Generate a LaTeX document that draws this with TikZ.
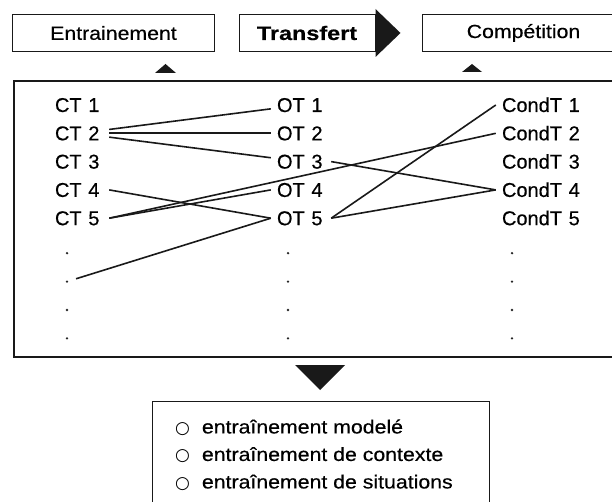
\documentclass[tikz,border=0pt]{standalone}
\usepackage{fontspec}
\usepackage{graphicx}
\setmainfont{Liberation Sans}[FakeBold=0.4]
\newfontfamily\widefont{Liberation Sans}[FakeStretch=1.12,FakeBold=0.4,BoldFeatures={FakeStretch=1.2}]
\newfontfamily\ringfont{DejaVu Sans}
\usetikzlibrary{positioning}

\newcommand{\ring}{{\ringfont\fontsize{17}{17}\selectfont ○}}

\begin{document}
\begin{tikzpicture}[x=1pt,y=-1pt,
            ink/.style={black!90},
            topbox/.style={draw,ink,rectangle,line width=1pt,minimum width=202pt,minimum height=37pt,text=black,font=\widefont\fontsize{19}{22}\selectfont},
            lab/.style={text width=48pt,align=left,inner xsep=6pt,inner ysep=0pt,text height=14pt,text depth=0pt,node distance=28.3pt,text=black,font=\fontsize{20}{24}\selectfont},
            condlab/.style={lab,text width=80pt},
            dot/.style={circle,fill=black!85,inner sep=0pt,minimum size=2.6pt,node distance=28.4pt},
            every edge/.style={draw,ink,line width=1.6pt}
          ]
          \useasboundingbox (0,0) rectangle (612,502);

          %top row
          \node[topbox] (entr) at (113.5,33) {Entrainement};
          \node[topbox,right of = entr,node distance=193.5pt,minimum width=136pt,font=\widefont\fontsize{19.5}{22}\selectfont\bfseries] (transf) {Transfert};
          \node[topbox,right of = transf,node distance=216.5pt] (comp) {Compétition};
          \fill[ink] (transf.east) ++(0,-24) -- ++(25,24) -- ++(-25,24) -- cycle;
          \fill[ink] (155,73) -- (165.5,64) -- (176,73) -- cycle;
          \fill[ink] (462,72) -- (472,64) -- (482,72) -- cycle;

          %frame
          \draw[ink,line width=1.2pt] (14,81) rectangle (614,357);

          %labels
          \node[lab] (ct1) at (79,105) {CT 1};
          \node[lab,below of = ct1] (ct2) {CT 2};
          \node[lab,below of = ct2] (ct3) {CT 3};
          \node[lab,below of = ct3] (ct4) {CT 4};
          \node[lab,below of = ct4] (ct5) {CT 5};

          \node[lab] (ot1) at (301,105) {OT 1};
          \node[lab,below of = ot1] (ot2) {OT 2};
          \node[lab,below of = ot2] (ot3) {OT 3};
          \node[lab,below of = ot3] (ot4) {OT 4};
          \node[lab,below of = ot4] (ot5) {OT 5};

          \node[condlab] (cd1) at (542,105) {CondT 1};
          \node[condlab,below of = cd1] (cd2) {CondT 2};
          \node[condlab,below of = cd2] (cd3) {CondT 3};
          \node[condlab,below of = cd3] (cd4) {CondT 4};
          \node[condlab,below of = cd4] (cd5) {CondT 5};

          %dots
          \node[dot,below of = ct5,node distance=35pt,xshift=-12pt] (ctd1) {};
          \node[dot,below of = ctd1] (ctd2) {};
          \node[dot,below of = ctd2] (ctd3) {};
          \node[dot,below of = ctd3] (ctd4) {};

          \node[dot,below of = ot5,node distance=35pt,xshift=-13pt] (otd1) {};
          \node[dot,below of = otd1] (otd2) {};
          \node[dot,below of = otd2] (otd3) {};
          \node[dot,below of = otd3] (otd4) {};

          \node[dot,below of = cd5,node distance=35pt,xshift=-30pt] (cdd1) {};
          \node[dot,below of = cdd1] (cdd2) {};
          \node[dot,below of = cdd2] (cdd3) {};
          \node[dot,below of = cdd3] (cdd4) {};

          %links
          \path
          (ct2) edge (ot1)
          (ct2) edge (ot2)
          (ct2) edge (ot3)
          (ct4.east) edge (ot5.west)
          (ct5.east) edge (ot4.west)
          (ct5.east) edge (cd2.west)
          (ctd2) edge[shorten <=8pt] (ot5.west)
          (ot3.east) edge (cd4.west)
          (ot5.east) edge (cd1.west)
          (ot5.east) edge (cd4.west)
          ;

          %result
          \fill[ink] (295,365) -- (345,365) -- (320,390) -- cycle;
          \draw[ink,line width=1pt] (152,520) |- (489,401) -- (489,520);
          \node[anchor=west,inner sep=0pt,align=left,text=black,font=\widefont\fontsize{19}{27.5}\selectfont] (modes) at (175,455)
            {\ring\hspace{6pt} entraînement modelé\\ \ring\hspace{6pt} entraînement de contexte\\ \ring\hspace{6pt} entraînement de situations};

      \end{tikzpicture}
\end{document}
